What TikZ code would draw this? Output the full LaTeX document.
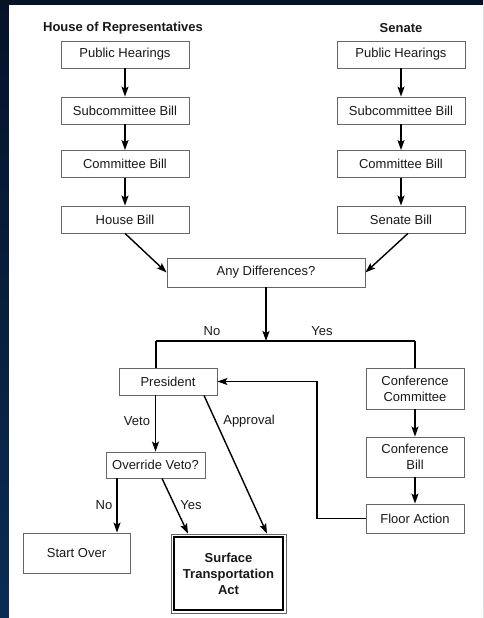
\documentclass[tikz,border=0pt]{standalone}
\usepackage{fontspec}
\setmainfont{Liberation Sans}
\usetikzlibrary{arrows.meta,calc}
\begin{document}
\begin{tikzpicture}[x=1pt,y=-1pt,
  box/.style={draw=black!60, line width=0.8pt, fill=white, inner sep=0pt, align=center,
    font=\fontsize{13}{16}\selectfont, text=black!90},
  ttl/.style={font=\fontsize{13}{16}\selectfont\bfseries, text=black!90},
  lbl/.style={font=\fontsize{13}{16}\selectfont, text=black!90, inner sep=0pt},
  arr/.style={-{Stealth[length=10pt,width=7pt,inset=2pt]}, line width=1.4pt},
  ln/.style={line width=1.4pt}]
\useasboundingbox (0,0) rectangle (483,618);
\shade[top color={rgb,255:red,6;green,18;blue,40}, bottom color={rgb,255:red,10;green,44;blue,84}] (0,0) rectangle (483,618);
\fill[white] (9,5) rectangle (483,618);

% titles
\node[ttl] (th) at (123,28) {House of Representatives};
\node[ttl] (ts) at (401,28) {Senate};

% House column
\node[box, minimum width=128pt, minimum height=27pt] (hph) at (125,54.5) {Public Hearings};
\node[box, minimum width=128pt, minimum height=27pt] (hsb) at (125,110.5) {Subcommittee Bill};
\node[box, minimum width=128pt, minimum height=27pt] (hcb) at (125,164) {Committee Bill};
\node[box, minimum width=128pt, minimum height=27pt] (hhb) at (125,219.5) {House Bill};

% Senate column
\node[box, minimum width=128pt, minimum height=27pt] (sph) at (401,54.5) {Public Hearings};
\node[box, minimum width=128pt, minimum height=27pt] (ssb) at (401,110.5) {Subcommittee Bill};
\node[box, minimum width=128pt, minimum height=27pt] (scb) at (401,164) {Committee Bill};
\node[box, minimum width=128pt, minimum height=27pt] (shb) at (401,219.5) {Senate Bill};

\node[box, minimum width=198pt, minimum height=29pt] (diff) at (266,272.5) {Any Differences?};

\node[box, minimum width=98pt, minimum height=27pt] (pres) at (168,381.5) {President};
\node[box, minimum width=98pt, minimum height=41pt] (cc) at (415,388.5) {Conference\\Committee};
\node[box, minimum width=98pt, minimum height=40pt] (cb) at (415,457) {Conference\\Bill};
\node[box, minimum width=98pt, minimum height=29pt] (fa) at (415,518.5) {Floor Action};
\node[box, minimum width=99pt, minimum height=26pt] (ov) at (155.5,465) {Override Veto?};
\node[box, minimum width=107pt, minimum height=40pt] (so) at (76.5,553) {Start Over};
\node[box, minimum width=115pt, minimum height=79pt, font=\fontsize{13}{16}\selectfont\bfseries] (sta) at (228.5,573.5) {Surface\\Transportation\\Act};
\draw[line width=1.8pt] ([shift={(3.5pt,-3.5pt)}]sta.north west) rectangle ([shift={(-3.5pt,3.5pt)}]sta.south east);

% column arrows
\draw[arr] (hph) -- (hsb);
\draw[arr] (hsb) -- (hcb);
\draw[arr] (hcb) -- (hhb);
\draw[arr] (sph) -- (ssb);
\draw[arr] (ssb) -- (scb);
\draw[arr] (scb) -- (shb);
\draw[arr] (hhb.south) -- (diff.west);
\draw[arr] ([xshift=7pt]shb.south) -- (diff.east);

% split
\coordinate (j) at (266,341);
\coordinate (jl) at (156,341);
\coordinate (jr) at (415,341);
\draw[arr] (diff.south) -- (j);
\draw[ln] (jl) -- (jr);
\draw[ln] (jl) -- (jl |- pres.north);
\draw[ln] (jr) -- (cc.north);
\node[lbl] (lno) at (212,331) {No};
\node[lbl] (lyes) at (322,331) {Yes};

% president
\draw[arr] (ov.north |- pres.south) -- (ov.north);
\node[lbl] (lveto) at (137,421) {Veto};
\draw[arr] ([xshift=36pt]pres.south) -- ([xshift=38.5pt]sta.north);
\node[lbl] (lapp) at (249,421) {Approval};

% override
\draw[arr] ([xshift=-38.5pt]ov.south) -- ([xshift=-38.5pt]ov.south |- so.north);
\node[lbl] (lno2) at (104,505) {No};
\draw[arr] ([xshift=6.5pt]ov.south) -- ([xshift=-40.5pt]sta.north);
\node[lbl] (lyes2) at (191,505) {Yes};

% conference
\draw[arr] (cc) -- (cb);
\draw[arr] (cb) -- (fa);
\coordinate (bend) at (317,518.5);
\draw[arr] (fa.west) -- (bend) |- (pres.east);
\end{tikzpicture}
\end{document}
